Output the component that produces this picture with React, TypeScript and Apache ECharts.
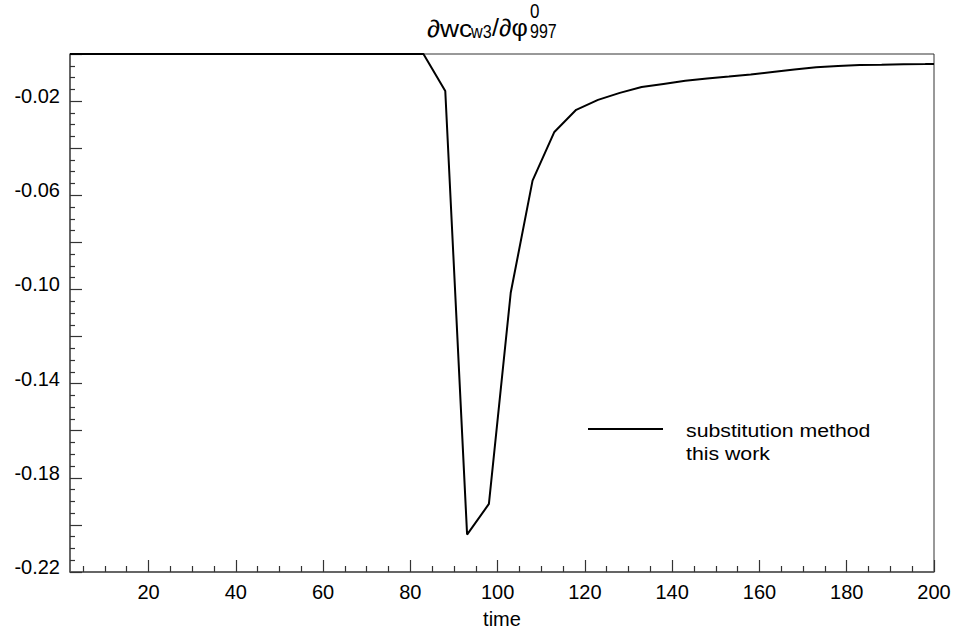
import React, { useEffect, useRef } from "react";
import * as echarts from "echarts";

const times = [2, 83, 88, 93, 98, 103, 108, 113, 118, 123, 128, 133, 138, 143, 148, 153, 158, 163, 168, 173, 178, 183, 188, 193, 198, 200];
const values = [0, 0, -0.0157, -0.2041, -0.1911, -0.1014, -0.0538, -0.0331, -0.0237, -0.0195, -0.0165, -0.014, -0.0127, -0.0114, -0.0104, -0.0096, -0.0087, -0.0076, -0.0066, -0.0056, -0.0051, -0.0047, -0.0046, -0.0044, -0.0043, -0.0042];

const xMajorTicks = [20, 40, 60, 80, 100, 120, 140, 160, 180, 200];
const xMinorTicks = [5, 10, 15, 25, 30, 35, 45, 50, 55, 65, 70, 75, 85, 90, 95, 105, 110, 115, 125, 130, 135, 145, 150, 155, 165, 170, 175, 185, 190, 195];
const yLabelTicks = [-0.22, -0.18, -0.14, -0.1, -0.06, -0.02];

const seriesName = "substitution method";
const legendLine2 = "this work";
const xName = "time";

const FONT = "'Liberation Sans', Arial, Helvetica, sans-serif";

const GRID_TOP = 54;
const GRID_BOTTOM = 60;
const H = 632;

export default function App() {
  const ref = useRef<HTMLDivElement>(null);
  useEffect(() => {
    if (!ref.current) return;
    const chart = echarts.init(ref.current, undefined, { renderer: "svg" });
    const data = times.map((t, i) => [t, values[i]]);
    const plotH = H - GRID_TOP - GRID_BOTTOM;
    const txt = (text: string, x: number, y: number, fontSize: number, scaleX = 1) => ({
      type: "text",
      x,
      y,
      scaleX,
      style: { text, fontSize, fill: "#000", fontFamily: FONT, verticalAlign: "middle", align: "left" },
    });
    chart.setOption({
      animation: false,
      backgroundColor: "#fff",
      textStyle: { fontFamily: FONT },
      grid: {
        left: 70,
        right: 24,
        top: GRID_TOP,
        bottom: GRID_BOTTOM,
        outerBoundsMode: "none",
        containLabel: false,
        show: true,
        borderColor: "#333",
        borderWidth: 1,
      },
      xAxis: [
        {
          type: "value",
          min: 2,
          max: 200,
          position: "bottom",
          name: xName,
          nameLocation: "middle",
          nameGap: 37,
          nameTextStyle: { fontSize: 20, color: "#000", fontFamily: FONT },
          axisLine: { show: true, onZero: false, lineStyle: { color: "#555", width: 1.5 } },
          axisTick: { show: true, inside: true, length: 12, customValues: xMajorTicks, lineStyle: { color: "#333", width: 1.2 } },
          axisLabel: { show: true, customValues: xMajorTicks, fontSize: 20, color: "#000", margin: 10, fontFamily: FONT },
          splitLine: { show: false },
        },
        {
          type: "value",
          min: 2,
          max: 200,
          position: "top",
          offset: -plotH,
          axisLine: { show: false, onZero: false },
          axisTick: { show: true, inside: false, length: 6, customValues: xMinorTicks, lineStyle: { color: "#333", width: 1.2 } },
          axisLabel: { show: false },
          splitLine: { show: false },
        },
      ],
      yAxis: {
        type: "value",
        min: -0.22,
        max: 0,
        interval: 0.02,
        axisLine: { show: true, onZero: false, lineStyle: { color: "#555", width: 1.5 } },
        axisTick: { show: true, inside: true, length: 12, lineStyle: { color: "#333", width: 1.2 } },
        minorTick: { show: true, splitNumber: 4, length: 5, lineStyle: { color: "#333", width: 1.2 } },
        axisLabel: {
          customValues: yLabelTicks,
          fontSize: 20,
          color: "#000",
          margin: 10,
          verticalAlign: "bottom",
          lineHeight: 10,
          fontFamily: FONT,
          formatter: (v: number) => v.toFixed(2),
        },
        splitLine: { show: false },
        minorSplitLine: { show: false },
      },
      series: [
        {
          type: "line",
          name: seriesName,
          data,
          xAxisIndex: 0,
          showSymbol: false,
          symbol: "none",
          lineStyle: { color: "#000", width: 2 },
        },
      ],
      graphic: [
        txt("∂wc", 427, 28, 24, 1.1),
        txt("w3", 471, 32, 19, 0.85),
        txt("/∂φ", 492, 28, 24, 1.05),
        txt("0", 530, 11, 20, 0.85),
        txt("997", 530, 31, 20, 0.8),
        { type: "line", shape: { x1: 588, y1: 429, x2: 663, y2: 429 }, style: { stroke: "#000", lineWidth: 2 } },
        txt(seriesName, 686, 430.7, 19, 1.12),
        txt(legendLine2, 686, 453.4, 19, 1.12),
      ],
    });
    return () => chart.dispose();
  }, []);
  return <div ref={ref} style={{ position: "absolute", left: 0, top: 0, width: 958, height: 632 }} />;
}
